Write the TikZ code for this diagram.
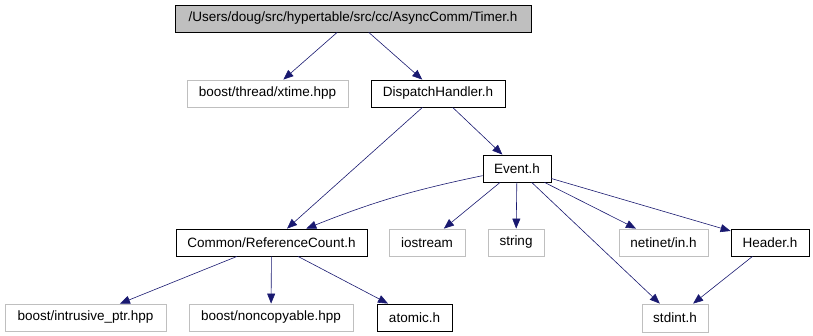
\documentclass[tikz,border=0pt]{standalone}
\usepackage{fontspec}
\setmainfont{Liberation Sans}
\usepackage{tikz}
\usetikzlibrary{arrows.meta,positioning}
\definecolor{edgeblue}{RGB}{25,25,112}
\definecolor{lightgrey}{RGB}{191,191,191}

\begin{document}
\begin{tikzpicture}[x=1pt,y=-1pt,
    file/.style={draw=black,line width=0.8pt,inner sep=0pt,minimum height=27pt,
      font=\fontsize{13.5}{15}\selectfont},
    sysfile/.style={file,draw=lightgrey},
    inc/.style={edgeblue,line width=0.6pt,-{Triangle[length=10pt,width=8pt]}}]
        \useasboundingbox (0,0) rectangle (813,336);

        % the file itself
        \node[file,fill=lightgrey,minimum width=356pt] (timer) at (353,18.5)
          {/Users/doug/src/hypertable/src/cc/AsyncComm/Timer.h};

        \node[sysfile,minimum width=161pt] (xtime) at (267.5,93.5) {boost/thread/xtime.hpp};
        \node[file,minimum width=134pt] (dispatch) at (438,93.5) {DispatchHandler.h};
        \node[file,minimum width=68pt] (event) at (517,168.5) {Event.h};

        % third row
        \node[file,minimum width=191pt] (refcount) at (271.5,242.5) {Common/ReferenceCount.h};
        \node[sysfile,minimum width=76pt] (iostream) at (427,242.5) {iostream};
        \node[sysfile,minimum width=56pt] (string) at (516,242.5) {string};
        \node[sysfile,minimum width=89pt] (netinet) at (663.5,242.5) {netinet/in.h};
        \node[file,minimum width=78pt] (header) at (770,242.5) {Header.h};

        % bottom row
        \node[sysfile,minimum width=161pt] (intrusive) at (85.5,317.5) {boost/intrusive\_ptr.hpp};
        \node[sysfile,minimum width=164pt] (noncopyable) at (271,317.5) {boost/noncopyable.hpp};
        \node[file,minimum width=75pt] (atomic) at (414.5,317.5) {atomic.h};
        \node[sysfile,minimum width=66pt,minimum height=28pt] (stdint) at (675,318) {stdint.h};

        % includes
        \draw[inc] (timer) -- (xtime);
        \draw[inc] (timer) -- (dispatch);
        \draw[inc] (dispatch) -- (refcount);
        \draw[inc] (dispatch) -- (event);
        \draw[inc] (event) to[bend right=5] (refcount);
        \draw[inc] (event) -- (iostream);
        \draw[inc] (event) -- (string);
        \draw[inc] (event) -- (stdint);
        \draw[inc] (event) -- (netinet);
        \draw[inc] (event) -- (header);
        \draw[inc] (header) -- (stdint);
        \draw[inc] (refcount) -- (intrusive);
        \draw[inc] (refcount) -- (noncopyable);
        \draw[inc] (refcount) -- (atomic);

      \end{tikzpicture}
\end{document}
